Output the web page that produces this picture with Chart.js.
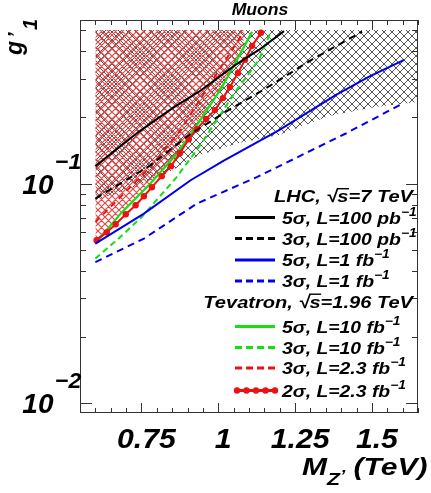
<!DOCTYPE html>
<html>
<head>
<meta charset="utf-8">
<script src="https://cdn.jsdelivr.net/npm/chart.js@4.4.1/dist/chart.umd.min.js"></script>
<style>
  html, body { margin: 0; padding: 0; background: #fff; }
  #wrap { width: 431px; height: 493px; }
</style>
</head>
<body>
<div id="wrap"><canvas id="c" width="431" height="493"></canvas></div>
<script>
// LHC, sqrt(s)=7 TeV curves  (M in TeV, g'1)
const lhc5s100M = [0.600, 0.741, 0.850, 0.937, 1.056, 1.132, 1.214];
const lhc5s100G = [0.120, 0.172, 0.220, 0.262, 0.347, 0.406, 0.495];
const lhc3s100M = [0.600, 0.779, 0.904, 1.024, 1.154, 1.305, 1.468];
const lhc3s100G = [0.0854, 0.121, 0.166, 0.212, 0.271, 0.367, 0.492];
const lhc5s1fbM = [0.600, 0.758, 0.910, 1.018, 1.198, 1.382, 1.491, 1.605];
const lhc5s1fbG = [0.0532, 0.0729, 0.1035, 0.127, 0.175, 0.253, 0.307, 0.366];
const lhc3s1fbM = [0.600, 0.758, 0.931, 1.127, 1.415, 1.604];
const lhc3s1fbG = [0.0438, 0.0561, 0.0811, 0.1072, 0.169, 0.233];

// Tevatron, sqrt(s)=1.96 TeV curves
const tev5s10M = [0.600, 0.682, 0.779, 0.866, 0.920, 1.013, 1.073, 1.110];
const tev5s10G = [0.0532, 0.0729, 0.100, 0.137, 0.175, 0.276, 0.393, 0.491];
const tev3s10M = [0.600, 0.676, 0.751, 0.861, 0.937, 1.056, 1.132, 1.171];
const tev3s10G = [0.0455, 0.0562, 0.0704, 0.1054, 0.1466, 0.262, 0.3655, 0.491];
const tev3s23M = [0.600, 0.671, 0.779, 0.877, 0.986, 1.083];
const tev3s23G = [0.0668, 0.0839, 0.119, 0.175, 0.303, 0.491];
const tev2s23M = [0.604, 0.637, 0.666, 0.699, 0.731, 0.758, 0.784, 0.816, 0.846, 0.875,
                  0.904, 0.930, 0.960, 0.989, 1.015, 1.038, 1.064, 1.087, 1.110, 1.139];
const tev2s23G = [0.0551, 0.0599, 0.0652, 0.0724, 0.0796, 0.0875, 0.0962, 0.108, 0.120, 0.1375,
                  0.159, 0.177, 0.197, 0.216, 0.245, 0.275, 0.319, 0.366, 0.424, 0.486];

// hatched (excluded) regions: lower edge, filled up to g'1 = 0.5
const regionTop = 0.5;
const lhcAreaM = [0.600, 0.741, 0.839, 0.937, 1.067, 1.198, 1.360, 1.510, 1.650];
const lhcAreaG = [0.0839, 0.0982, 0.1126, 0.1346, 0.1528, 0.1663, 0.2028, 0.2229, 0.2349];
const tevAreaM = [0.600, 0.682, 0.779, 0.866, 0.920, 1.013, 1.073, 1.090];
const tevAreaG = [0.0532, 0.0729, 0.100, 0.137, 0.175, 0.276, 0.393, 0.5];

// axes
const xTickVals = [0.75, 1.0, 1.25, 1.5];
const xTickText = ['0.75', '1', '1.25', '1.5'];
const yTickVals = [0.01, 0.1];
const yTickExp  = ['\u22122', '\u22121'];

// legend
const legendSig  = ['5\u03c3', '3\u03c3', '5\u03c3', '3\u03c3', '5\u03c3', '3\u03c3', '3\u03c3', '2\u03c3'];
const legendLumi = ['100 pb', '100 pb', '1 fb', '1 fb', '10 fb', '10 fb', '2.3 fb', '2.3 fb'];

const FONT = sz => `italic bold ${sz}px "Liberation Sans", Arial, sans-serif`;
const pts = (xs, ys) => xs.map((x, i) => ({ x, y: ys[i] }));

function hatch(color, size, lw) {
  const c = document.createElement('canvas');
  c.width = c.height = size;
  const g = c.getContext('2d');
  g.strokeStyle = color;
  g.lineWidth = lw;
  g.beginPath();
  for (const o of [-size, 0, size]) {
    g.moveTo(o - 1, -1); g.lineTo(o + size + 1, size + 1);
    g.moveTo(o + size + 1, -1); g.lineTo(o - 1, size + 1);
  }
  g.stroke();
  return g.createPattern(c, 'repeat');
}

// text with horizontal stretch, parts = [{t, f, dy, over}]
function rich(ctx, parts, x, y, align, sx) {
  let w = 0;
  parts.forEach(p => {
    ctx.font = p.f;
    p.w = ctx.measureText(p.t).width * sx;
    w += p.w;
  });
  let cx = align === 'right' ? x - w : align === 'center' ? x - w / 2 : x;
  ctx.textAlign = 'left';
  ctx.textBaseline = 'alphabetic';
  parts.forEach(p => {
    ctx.font = p.f;
    ctx.save();
    ctx.translate(cx, y + (p.dy || 0));
    ctx.scale(sx, 1);
    ctx.fillText(p.t, 0, 0);
    ctx.restore();
    if (p.over) ctx.fillRect(cx - 0.5, y - p.over, p.w + 1, 1.4);
    cx += p.w;
  });
}

const legendStyle = [
  { c: '#000', dash: [] }, { c: '#000', dash: [7, 4] },
  { c: '#0000ee', dash: [] }, { c: '#0000ee', dash: [7, 4] },
  { c: '#11e011', dash: [] }, { c: '#11e011', dash: [7, 4] },
  { c: '#ee1111', dash: [7, 4] }, { c: '#ee1111', dash: [], dots: true }
];

const rootPlugin = {
  id: 'rootFrame',
  afterDraw(chart) {
    const ctx = chart.ctx;
    const { left, right, top, bottom } = chart.chartArea;
    const xs = chart.scales.x, ys = chart.scales.y;
    ctx.save();
    ctx.fillStyle = '#000';
    ctx.strokeStyle = '#333';
    ctx.lineWidth = 1;
    ctx.setLineDash([]);
    ctx.strokeRect(left + 0.5, top + 0.5, right - left - 1, bottom - top - 1);

    // x ticks, every 0.05
    ctx.beginPath();
    for (let i = 11; i <= 33; i++) {
      const v = i * 0.05;
      const px = Math.round(xs.getPixelForValue(v)) + 0.5;
      const len = i % 5 === 0 ? 10 : 5;
      ctx.moveTo(px, bottom); ctx.lineTo(px, bottom - len);
      ctx.moveTo(px, top); ctx.lineTo(px, top + len);
    }
    // y ticks, log decades
    for (const d of yTickVals) {
      for (let k = 1; k <= 9; k++) {
        const v = k * d;
        if (v < ys.min || v > ys.max) continue;
        const py = Math.round(ys.getPixelForValue(v)) + 0.5;
        const len = k === 1 ? 12 : 6;
        ctx.moveTo(left, py); ctx.lineTo(left + len, py);
        ctx.moveTo(right, py); ctx.lineTo(right - len, py);
      }
    }
    ctx.stroke();

    // tick labels
    xTickVals.forEach((v, i) => {
      rich(ctx, [{ t: xTickText[i], f: FONT(28) }], xs.getPixelForValue(v) + 5, 448, 'center', 1.08);
    });
    yTickVals.forEach((v, i) => {
      const py = ys.getPixelForValue(v);
      rich(ctx, [{ t: '10', f: FONT(28) }], 53.5, py + 10, 'right', 1.0);
      rich(ctx, [{ t: yTickExp[i], f: FONT(22) }], 55, py - 15, 'left', 1.05);
    });

    // titles
    rich(ctx, [{ t: 'Muons', f: FONT(16) }], 260, 15, 'center', 1.1);
    rich(ctx, [
      { t: 'M', f: FONT(24) },
      { t: 'Z', f: FONT(17), dy: 10 },
      { t: '\u2019', f: FONT(15), dy: 5 },
      { t: ' (TeV)', f: FONT(24) }
    ], 302, 475, 'left', 1.25);
    ctx.save();
    ctx.translate(22, 55);
    ctx.rotate(-Math.PI / 2);
    ctx.font = FONT(23);
    ctx.fillText('g', 0, 0);
    ctx.font = FONT(20);
    ctx.fillText('\u2019', 17, 0);
    ctx.fillText('1', 25, 15);
    ctx.restore();

    // legend
    const rowY = [196, 217.5, 238.5, 260, 281, 302.5, 326.5, 347.5, 368, 390.5];
    const sqrtParts = (name, e) => [
      { t: name + ', ', f: FONT(17) },
      { t: '\u221a', f: FONT(17) },
      { t: 's', f: FONT(17), over: 14 },
      { t: '=' + e + ' TeV', f: FONT(17) }
    ];
    rich(ctx, sqrtParts('LHC', '7'), 413, rowY[0] + 6, 'right', 1.18);
    rich(ctx, sqrtParts('Tevatron', '1.96'), 413, rowY[5] + 5, 'right', 1.18);
    legendSig.forEach((s, i) => {
      const y = rowY[i < 4 ? i + 1 : i + 2];
      const st = legendStyle[i];
      ctx.strokeStyle = st.c;
      ctx.fillStyle = st.c;
      ctx.lineWidth = 3.2;
      ctx.setLineDash(st.dash);
      ctx.beginPath(); ctx.moveTo(235, y); ctx.lineTo(275, y); ctx.stroke();
      ctx.setLineDash([]);
      if (st.dots) {
        for (let k = 0; k < 5; k++) {
          ctx.beginPath(); ctx.arc(237 + k * 9.5, y, 3.2, 0, Math.PI * 2); ctx.fill();
        }
      }
      ctx.fillStyle = '#000';
      rich(ctx, [
        { t: s + ', L=' + legendLumi[i], f: FONT(17) },
        { t: '\u22121', f: FONT(12), dy: -8 }
      ], 282, y + 6, 'left', 1.14);
    });
    ctx.restore();
  }
};

const lineDs = (xs, ys, color, dash, extra) => Object.assign({
  data: pts(xs, ys),
  borderColor: color,
  backgroundColor: color,
  borderWidth: 2,
  borderDash: dash,
  pointRadius: 0,
  fill: false,
  order: 1
}, extra || {});

const blackHatch = hatch('#555', 8, 1.0);
const redHatch = hatch('#e04848', 7, 1.2);

// red (Tevatron) hatch is drawn over the black (LHC) one
const datasets = [
  { data: pts(lhcAreaM, lhcAreaM.map(() => regionTop)), borderWidth: 0, pointRadius: 0, fill: false, order: 11 },
  { data: pts(lhcAreaM, lhcAreaG), borderWidth: 0, pointRadius: 0, backgroundColor: blackHatch, fill: '-1', order: 11 },
  { data: pts(tevAreaM, tevAreaM.map(() => regionTop)), borderWidth: 0, pointRadius: 0, fill: false, order: 10 },
  { data: pts(tevAreaM, tevAreaG), borderWidth: 0, pointRadius: 0, backgroundColor: redHatch, fill: '-1', order: 10 },
  lineDs(lhc5s100M, lhc5s100G, '#000', []),
  lineDs(lhc3s100M, lhc3s100G, '#000', [7, 5]),
  lineDs(lhc5s1fbM, lhc5s1fbG, '#0000ee', []),
  lineDs(lhc3s1fbM, lhc3s1fbG, '#0000ee', [7, 5]),
  lineDs(tev3s23M, tev3s23G, '#ee1111', [6, 5]),
  lineDs(tev2s23M, tev2s23G, '#ee1111', [], { pointRadius: 3.2, pointBorderWidth: 0, pointBackgroundColor: '#ee1111' }),
  lineDs(tev3s10M, tev3s10G, '#11e011', [6, 4]),
  lineDs(tev5s10M, tev5s10G, '#11e011', [], { borderWidth: 2.2 })
];

new Chart(document.getElementById('c'), {
  type: 'line',
  data: { datasets },
  options: {
    responsive: false,
    animation: false,
    layout: { padding: { left: 80, right: 13, top: 20, bottom: 80 } },
    scales: {
      x: { type: 'linear', min: 0.55, max: 1.65, display: false },
      y: { type: 'logarithmic', min: 0.009, max: 0.556, display: false }
    },
    elements: { line: { tension: 0 } },
    plugins: {
      legend: { display: false },
      tooltip: { enabled: false },
      filler: { propagate: false }
    }
  },
  plugins: [rootPlugin]
});
</script>
</body>
</html>
